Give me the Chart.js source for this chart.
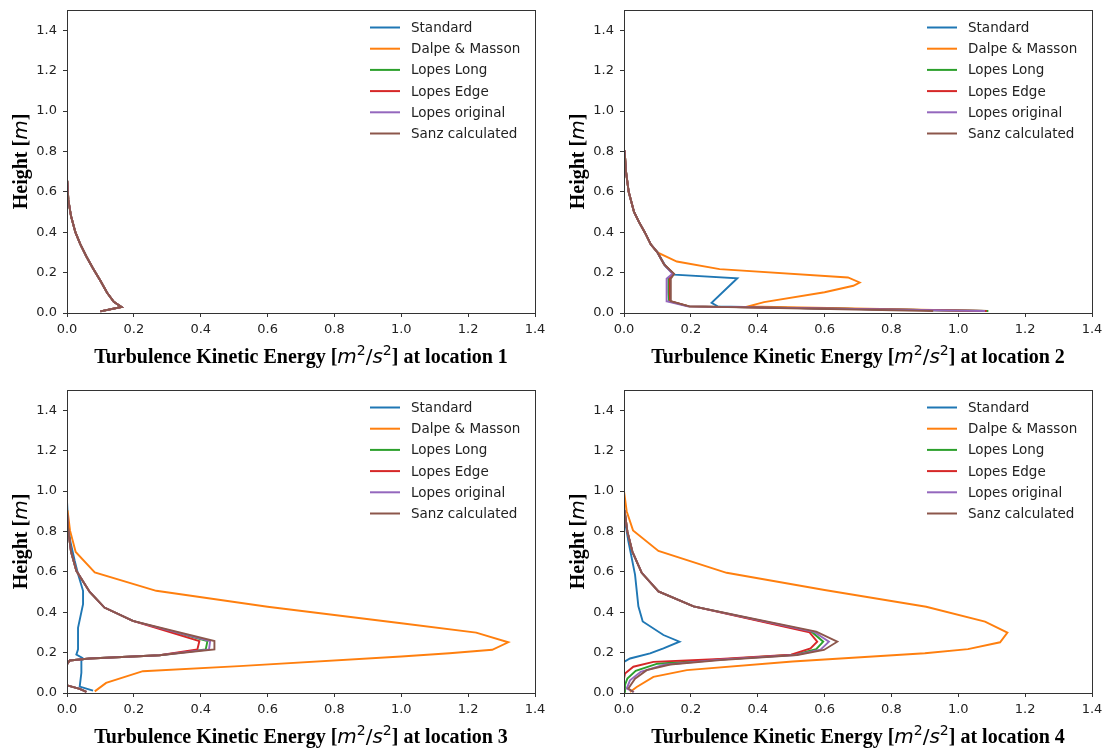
<!DOCTYPE html>
<html>
<head>
<meta charset="utf-8">
<script src="https://cdn.jsdelivr.net/npm/chart.js@4.4.0/dist/chart.umd.min.js"></script>
<style>
    body { margin: 0; background: #fff; width: 1108px; height: 751px; overflow: hidden; position: relative; }
    .panel { position: absolute; width: 551px; height: 371px; }
</style>
</head>
<body>
<div class="panel" style="left:0;top:0"><canvas id="loc1" width="551" height="371"></canvas></div>
<div class="panel" style="left:557px;top:0"><canvas id="loc2" width="551" height="371"></canvas></div>
<div class="panel" style="left:0;top:380px"><canvas id="loc3" width="551" height="371"></canvas></div>
<div class="panel" style="left:557px;top:380px"><canvas id="loc4" width="551" height="371"></canvas></div>

<script>
// ------------------------------------
// Data: TKE profiles [tke, height] per location
// ------------------------------------
const seriesNames = ['Standard', 'Dalpe & Masson', 'Lopes Long', 'Lopes Edge', 'Lopes original', 'Sanz calculated'];
const xTicks = [0.0, 0.2, 0.4, 0.6, 0.8, 1.0, 1.2, 1.4];
const yTicks = [0.0, 0.2, 0.4, 0.6, 0.8, 1.0, 1.2, 1.4];

// location 1: all models give the same profile
const loc1Profile = [[0.100, 0.008], [0.163, 0.030], [0.140, 0.055], [0.120, 0.100], [0.100, 0.160],
    [0.078, 0.220], [0.058, 0.280], [0.040, 0.340], [0.025, 0.400], [0.012, 0.480], [0.004, 0.560],
    [0.001, 0.650], [0.000, 0.750], [0.000, 1.500]];

// location 2
const loc2Upper = [[0.100, 0.300], [0.080, 0.340], [0.062, 0.400], [0.045, 0.450], [0.030, 0.500],
    [0.014, 0.600], [0.006, 0.700], [0.002, 0.800], [0.000, 0.900], [0.000, 1.500]];
const loc2Standard = [[1.080, 0.010], [0.600, 0.022], [0.280, 0.033], [0.262, 0.050], [0.339, 0.172],
    [0.150, 0.190], [0.125, 0.230]];
const loc2Dalpe = [[1.085, 0.010], [0.371, 0.033], [0.419, 0.054], [0.600, 0.103], [0.686, 0.135],
    [0.705, 0.151], [0.670, 0.176], [0.286, 0.217], [0.158, 0.255]];
const loc2LopesLong = [[1.090, 0.010], [0.195, 0.033], [0.135, 0.058], [0.133, 0.100], [0.133, 0.170],
    [0.148, 0.194], [0.120, 0.240]];
const loc2LopesEdge = [[1.085, 0.010], [0.195, 0.033], [0.138, 0.058], [0.137, 0.100], [0.137, 0.170],
    [0.148, 0.194], [0.120, 0.240]];
const loc2LopesOrig = [[1.080, 0.010], [0.190, 0.033], [0.128, 0.058], [0.127, 0.100], [0.128, 0.170],
    [0.145, 0.194], [0.120, 0.240]];
const loc2Sanz = [[0.925, 0.010], [0.195, 0.033], [0.140, 0.058], [0.140, 0.100], [0.140, 0.170],
    [0.150, 0.194], [0.120, 0.240]];

// location 3
const loc3Upper = [[0.197, 0.357], [0.112, 0.423], [0.068, 0.500], [0.028, 0.605], [0.012, 0.700],
    [0.004, 0.800], [0.000, 0.900], [0.000, 1.500]];
const loc3Lower = [[0.058, 0.005], [0.038, 0.020], [0.000, 0.038], [0.000, 0.141], [0.008, 0.161],
    [0.068, 0.171], [0.277, 0.187]];
const loc3Standard = [[0.078, 0.012], [0.038, 0.032], [0.043, 0.100], [0.043, 0.158], [0.046, 0.174],
    [0.028, 0.190], [0.033, 0.216], [0.033, 0.323], [0.048, 0.440], [0.048, 0.506], [0.033, 0.589],
    [0.023, 0.655], [0.010, 0.750], [0.003, 0.850], [0.000, 0.950], [0.000, 1.500]];
const loc3Dalpe = [[0.083, 0.008], [0.117, 0.050], [0.227, 0.108], [0.515, 0.133], [1.000, 0.181],
    [1.144, 0.197], [1.272, 0.214], [1.320, 0.251], [1.224, 0.299], [1.000, 0.345], [0.600, 0.427],
    [0.267, 0.506], [0.083, 0.597], [0.026, 0.698], [0.009, 0.805], [0.002, 0.900], [0.000, 1.000],
    [0.000, 1.500]];
const loc3LopesLong = [[0.415, 0.216], [0.420, 0.257]];
const loc3LopesEdge = [[0.390, 0.216], [0.396, 0.257]];
const loc3LopesOrig = [[0.425, 0.216], [0.428, 0.257]];
const loc3Sanz = [[0.441, 0.216], [0.441, 0.257]];

// location 4
const loc4Upper = [[0.208, 0.429], [0.103, 0.503], [0.053, 0.595], [0.025, 0.700], [0.010, 0.800],
    [0.002, 0.900], [0.000, 1.000], [0.000, 1.500]];
const loc4Standard = [[0.000, 0.000], [0.000, 0.154], [0.018, 0.171], [0.078, 0.196], [0.118, 0.221],
    [0.166, 0.254], [0.118, 0.287], [0.056, 0.354], [0.043, 0.429], [0.033, 0.586], [0.013, 0.752],
    [0.003, 0.850], [0.000, 0.950], [0.000, 1.500]];
const loc4Dalpe = [[0.018, 0.005], [0.038, 0.030], [0.088, 0.080], [0.188, 0.113], [0.504, 0.156],
    [0.900, 0.197], [1.029, 0.217], [1.125, 0.251], [1.147, 0.299], [1.080, 0.353], [0.904, 0.427],
    [0.600, 0.510], [0.307, 0.595], [0.103, 0.703], [0.027, 0.805], [0.008, 0.900], [0.000, 1.000],
    [0.000, 1.500]];
const loc4LopesLong = [[0.005, 0.005], [0.003, 0.040], [0.010, 0.071], [0.035, 0.110], [0.100, 0.145],
    [0.288, 0.166], [0.508, 0.189], [0.575, 0.217], [0.596, 0.254], [0.562, 0.302]];
const loc4LopesEdge = [[0.000, 0.005], [0.000, 0.071], [0.003, 0.096], [0.028, 0.130], [0.088, 0.154],
    [0.288, 0.168], [0.500, 0.190], [0.558, 0.221], [0.578, 0.254], [0.555, 0.300]];
const loc4LopesOrig = [[0.030, 0.005], [0.008, 0.022], [0.018, 0.063], [0.050, 0.105], [0.120, 0.140],
    [0.288, 0.165], [0.513, 0.188], [0.588, 0.215], [0.613, 0.254], [0.568, 0.303]];
const loc4Sanz = [[0.028, 0.005], [0.013, 0.022], [0.033, 0.071], [0.068, 0.113], [0.138, 0.141],
    [0.288, 0.163], [0.518, 0.188], [0.598, 0.213], [0.638, 0.254], [0.575, 0.304]];

// series per location, in legend order
const locationSeries = {
    1: [loc1Profile, loc1Profile, loc1Profile, loc1Profile, loc1Profile, loc1Profile],
    2: [loc2Standard.concat(loc2Upper), loc2Dalpe.concat(loc2Upper), loc2LopesLong.concat(loc2Upper),
        loc2LopesEdge.concat(loc2Upper), loc2LopesOrig.concat(loc2Upper), loc2Sanz.concat(loc2Upper)],
    3: [loc3Standard, loc3Dalpe,
        loc3Lower.concat(loc3LopesLong, loc3Upper), loc3Lower.concat(loc3LopesEdge, loc3Upper),
        loc3Lower.concat(loc3LopesOrig, loc3Upper), loc3Lower.concat(loc3Sanz, loc3Upper)],
    4: [loc4Standard, loc4Dalpe, loc4LopesLong.concat(loc4Upper), loc4LopesEdge.concat(loc4Upper),
        loc4LopesOrig.concat(loc4Upper), loc4Sanz.concat(loc4Upper)]
};

// ------------------------------------
// Styling
// ------------------------------------
const seriesColors = ['#1f77b4', '#ff7f0e', '#2ca02c', '#d62728', '#9467bd', '#8c564b'];
const spineColor = '#333';
const tickFont = { family: 'DejaVu Sans', size: 13 };
const serifBold = 'bold 20px "Liberation Serif"';
const mathItalic = 'italic 20px "DejaVu Sans"';
const mathRegular = '20px "DejaVu Sans"';
const mathSup = '14px "DejaVu Sans"';

// draw a run of mixed-font text centred on x
function drawRichText(ctx, parts, x, y) {
    let total = 0;
    parts.forEach(p => {
        ctx.font = p.font;
        p.w = ctx.measureText(p.text).width;
        total += p.w;
    });
    let cx = x - total / 2;
    ctx.textAlign = 'left';
    ctx.textBaseline = 'alphabetic';
    parts.forEach(p => {
        ctx.font = p.font;
        ctx.fillText(p.text, cx, y - (p.rise || 0));
        cx += p.w;
    });
}

// frame, axis titles and legend drawn on top of the plot area
const panelDecor = {
    id: 'panelDecor',
    afterDraw(chart, args, opts) {
        const ctx = chart.ctx;
        const a = chart.chartArea;
        ctx.save();

        // full box around the axes
        ctx.strokeStyle = spineColor;
        ctx.lineWidth = 1;
        ctx.strokeRect(Math.round(a.left) + 0.5, Math.round(a.top) + 0.5,
            Math.round(a.right - a.left), Math.round(a.bottom - a.top));

        // x axis title
        ctx.fillStyle = '#000';
        drawRichText(ctx, [
            { text: 'Turbulence Kinetic Energy [', font: serifBold },
            { text: 'm', font: mathItalic },
            { text: '2', font: mathSup, rise: 8 },
            { text: '/', font: mathRegular },
            { text: 's', font: mathItalic },
            { text: '2', font: mathSup, rise: 8 },
            { text: '] at location ' + opts.location, font: serifBold }
        ], (a.left + a.right) / 2, a.bottom + 50);

        // y axis title
        ctx.save();
        ctx.translate(a.left - 40, (a.top + a.bottom) / 2);
        ctx.rotate(-Math.PI / 2);
        drawRichText(ctx, [
            { text: 'Height [', font: serifBold },
            { text: 'm', font: mathItalic },
            { text: ']', font: serifBold }
        ], 0, 0);
        ctx.restore();

        // legend, top right inside the axes
        ctx.font = '13.5px "DejaVu Sans"';
        ctx.textAlign = 'left';
        ctx.textBaseline = 'middle';
        chart.data.datasets.forEach((ds, i) => {
            const y = a.top + 17.5 + i * 21.2;
            ctx.strokeStyle = ds.borderColor;
            ctx.lineWidth = 2;
            ctx.beginPath();
            ctx.moveTo(a.right - 165, y);
            ctx.lineTo(a.right - 135, y);
            ctx.stroke();
            ctx.fillStyle = '#222';
            ctx.fillText(ds.label, a.right - 124, y + 1);
        });
        ctx.restore();
    }
};

// ------------------------------------
// Chart Initialization
// ------------------------------------
function initPanel(location) {
    const ctx = document.getElementById('loc' + location).getContext('2d');
    const datasets = seriesNames.map((name, i) => ({
        label: name,
        data: locationSeries[location][i].map(p => ({ x: p[0], y: p[1] })),
        borderColor: seriesColors[i],
        backgroundColor: seriesColors[i],
        borderWidth: 1.9,
        showLine: true,
        pointRadius: 0,
        tension: 0,
        fill: false,
        order: seriesNames.length - i
    }));

    new Chart(ctx, {
        type: 'scatter',
        data: { datasets: datasets },
        options: {
            responsive: false,
            animation: false,
            layout: { padding: { left: 0, top: 10, right: 16, bottom: 0 } },
            plugins: {
                legend: { display: false },
                tooltip: { enabled: false },
                panelDecor: { location: location }
            },
            scales: {
                x: {
                    type: 'linear',
                    min: 0,
                    max: 1.4,
                    afterBuildTicks: s => { s.ticks = xTicks.map(v => ({ value: v })); },
                    afterFit: s => { s.height = 58; s.paddingLeft = 0; s.paddingRight = 0; },
                    ticks: {
                        callback: v => v.toFixed(1),
                        font: tickFont,
                        color: '#222',
                        padding: 5,
                        maxRotation: 0,
                        autoSkip: false
                    },
                    grid: { drawOnChartArea: false, tickLength: 4, color: spineColor },
                    border: { color: spineColor, width: 1 }
                },
                y: {
                    type: 'linear',
                    min: 0,
                    max: 1.5,
                    afterBuildTicks: s => { s.ticks = yTicks.map(v => ({ value: v })); },
                    afterFit: s => { s.width = 67; s.paddingTop = 0; s.paddingBottom = 0; },
                    ticks: {
                        callback: v => v.toFixed(1),
                        font: tickFont,
                        color: '#222',
                        padding: 6,
                        autoSkip: false
                    },
                    grid: { drawOnChartArea: false, tickLength: 4, color: spineColor },
                    border: { color: spineColor, width: 1 }
                }
            }
        },
        plugins: [panelDecor]
    });
}

window.onload = function() {
    [1, 2, 3, 4].forEach(initPanel);
};
</script>
</body>
</html>
